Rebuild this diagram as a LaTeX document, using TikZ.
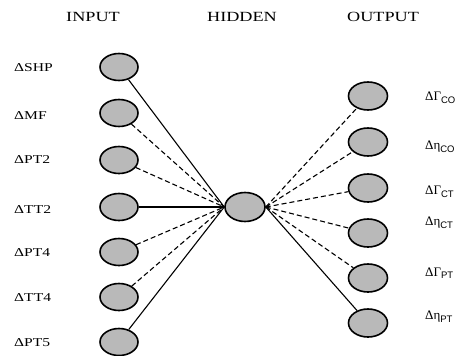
\documentclass[tikz,border=0pt]{standalone}
\usepackage{fontspec}
\setmainfont{Liberation Serif}
\newfontfamily\subsf{Liberation Sans}
\usetikzlibrary{shapes.geometric}
\tikzset{
 neuron/.style={ellipse, draw=black, line width=1.6pt, fill=gray!55, minimum width=38pt, minimum height=27pt, inner sep=0pt},
 hdr/.style={font=\fontsize{14}{16}\selectfont, inner sep=0pt},
 inlab/.style={anchor=west, font=\fontsize{12}{14}\selectfont, inner sep=0pt},
 outlab/.style={anchor=west, font=\fontsize{13}{15}\selectfont, inner sep=0pt},
 link/.style={line width=1.1pt},
 dlink/.style={line width=1.1pt, dash pattern=on 5pt off 3pt},
}
\newcommand{\wide}[1]{\scalebox{1.3}[1]{#1}}
\newcommand{\osub}[1]{\raisebox{-2.5pt}{\subsf\fontsize{9.5}{11}\selectfont #1}}
\begin{document}
\begin{tikzpicture}[x=1pt,y=-1pt]
\useasboundingbox[fill=white] (0,0) rectangle (474,356);
% headers
\node[hdr] (hin) at (93,17) {\wide{INPUT}};
\node[hdr] (hhid) at (242,17) {\wide{HIDDEN}};
\node[hdr] (hout) at (383,17) {\wide{OUTPUT}};
% input nodes
\node[neuron] (i1) at (119,67) {};
\node[neuron] (i2) at (119,113) {};
\node[neuron] (i3) at (119,160) {};
\node[neuron] (i4) at (119,207) {};
\node[neuron] (i5) at (119,252) {};
\node[neuron] (i6) at (119,297) {};
\node[neuron] (i7) at (119,342) {};
% hidden node
\node[neuron, minimum width=40pt, minimum height=29pt] (h) at (245,207) {};
% output nodes
\node[neuron, minimum width=39pt, minimum height=28pt] (o1) at (368,96) {};
\node[neuron, minimum width=39pt, minimum height=28pt] (o2) at (368,142) {};
\node[neuron, minimum width=39pt, minimum height=28pt] (o3) at (368,188) {};
\node[neuron, minimum width=39pt, minimum height=28pt] (o4) at (368,233) {};
\node[neuron, minimum width=39pt, minimum height=28pt] (o5) at (368,278) {};
\node[neuron, minimum width=39pt, minimum height=28pt] (o6) at (368,323) {};
% input labels
\node[inlab] (l1) at (14,68) {\wide{ΔSHP}};
\node[inlab] (l2) at (14,116) {\wide{ΔMF}};
\node[inlab] (l3) at (14,160) {\wide{ΔPT2}};
\node[inlab] (l4) at (14,210) {\wide{ΔTT2}};
\node[inlab] (l5) at (14,253) {\wide{ΔPT4}};
\node[inlab] (l6) at (14,298) {\wide{ΔTT4}};
\node[inlab] (l7) at (14,343) {\wide{ΔPT5}};
% output labels
\node[outlab] (r1) at (425,98) {ΔΓ\osub{CO}};
\node[outlab] (r2) at (425,147) {Δη\osub{CO}};
\node[outlab] (r3) at (425,192) {ΔΓ\osub{CT}};
\node[outlab] (r4) at (425,223) {Δη\osub{CT}};
\node[outlab] (r5) at (425,273) {ΔΓ\osub{PT}};
\node[outlab] (r6) at (425,317) {Δη\osub{PT}};
% connectors input -> hidden
\draw[link]  (i1) -- (h.west);
\draw[dlink] (i2) -- (h.west);
\draw[dlink] (i3) -- (h.west);
\draw[link]  (i4) -- (h.west);
\draw[dlink] (i5) -- (h.west);
\draw[dlink] (i6) -- (h.west);
\draw[link]  (i7) -- (h.west);
% connectors hidden -> output
\draw[dlink] (h.east) -- (o1);
\draw[dlink] (h.east) -- (o2);
\draw[dlink] (h.east) -- (o3);
\draw[dlink] (h.east) -- (o4);
\draw[dlink] (h.east) -- (o5);
\draw[link]  (h.east) -- (o6);
\end{tikzpicture}
\end{document}
